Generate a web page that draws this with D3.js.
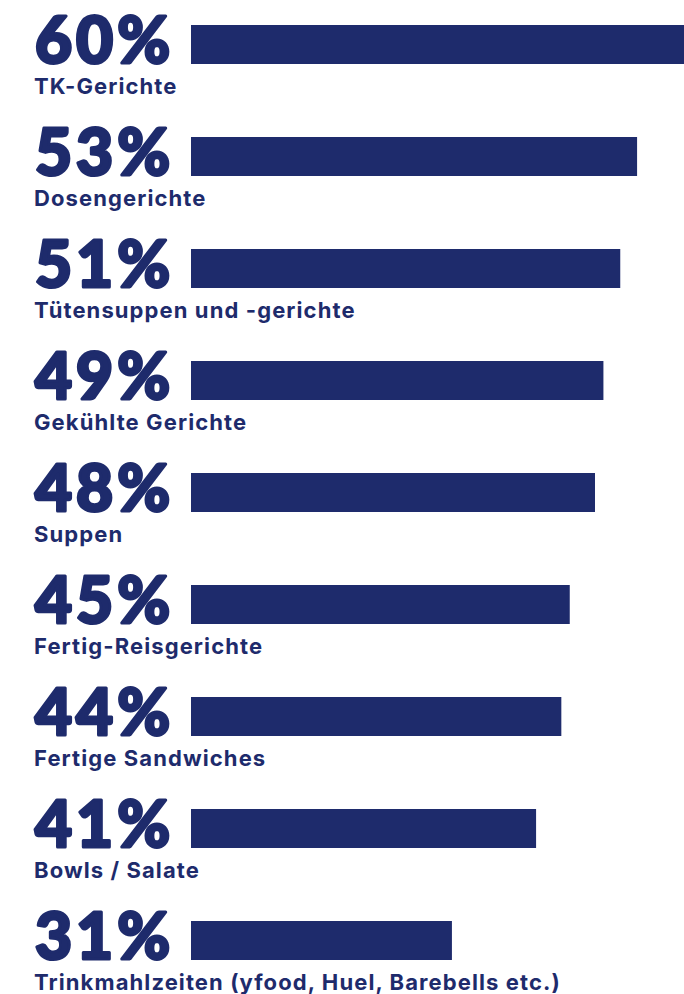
<!DOCTYPE html>
<html>
<head>
<meta charset="utf-8">
<script src="https://cdn.jsdelivr.net/npm/d3@7"></script>
<style>
  html, body { margin: 0; padding: 0; background: #ffffff; overflow: hidden; }
  svg { display: block; }
</style>
</head>
<body>
<svg id="chart" width="684" height="994"></svg>
<script>
// Anteile je Produktkategorie (in Prozent)
const categories = [
  "TK-Gerichte",
  "Dosengerichte",
  "Tütensuppen und -gerichte",
  "Gekühlte Gerichte",
  "Suppen",
  "Fertig-Reisgerichte",
  "Fertige Sandwiches",
  "Bowls / Salate",
  "Trinkmahlzeiten (yfood, Huel, Barebells etc.)"
];
const values = [60, 53, 51, 49, 48, 45, 44, 41, 31];

const navy = "#1e2b6c";
const svg = d3.select("#chart");

const barLeft = 191;
const rowStep = 112;
const barH = 39;
const firstRowY = 25;

// x: Prozent -> Pixel (ca. 8,42 px je Prozentpunkt)
const x = d3.scaleLinear().domain([0, 60]).range([barLeft, barLeft + 505]);

// y: eine Zeile je Kategorie
const y = d3.scaleBand()
  .domain(categories)
  .range([firstRowY, firstRowY + (categories.length - 1) * rowStep + barH])
  .paddingInner(1 - barH / rowStep)
  .paddingOuter(0);

const data = categories.map((c, i) => ({ cat: c, val: values[i] }));

const rows = svg.selectAll("g.row")
  .data(data)
  .join("g")
  .attr("class", "row");

rows.append("rect")
  .attr("x", x(0))
  .attr("y", d => y(d.cat))
  .attr("width", d => x(d.val) - x(0))
  .attr("height", y.bandwidth())
  .attr("fill", navy);

// Prozentwert in dicker, runder Schrift
rows.append("text")
  .attr("x", 35)
  .attr("y", d => y(d.cat) + y.bandwidth() - 1)
  .attr("font-family", "Lato, 'DejaVu Sans', sans-serif")
  .attr("font-weight", 900)
  .attr("font-size", 64)
  .attr("letter-spacing", 4)
  .attr("fill", navy)
  .attr("stroke", navy)
  .attr("stroke-width", 3)
  .attr("stroke-linejoin", "round")
  .text(d => d.val + "%");

// Kategoriebezeichnung
rows.append("text")
  .attr("x", 34)
  .attr("y", d => y(d.cat) + y.bandwidth() + 30)
  .attr("font-family", "Inter, 'Liberation Sans', sans-serif")
  .attr("font-weight", 700)
  .attr("font-size", 22)
  .attr("letter-spacing", 1.1)
  .attr("fill", navy)
  .text(d => d.cat);
</script>
</body>
</html>
